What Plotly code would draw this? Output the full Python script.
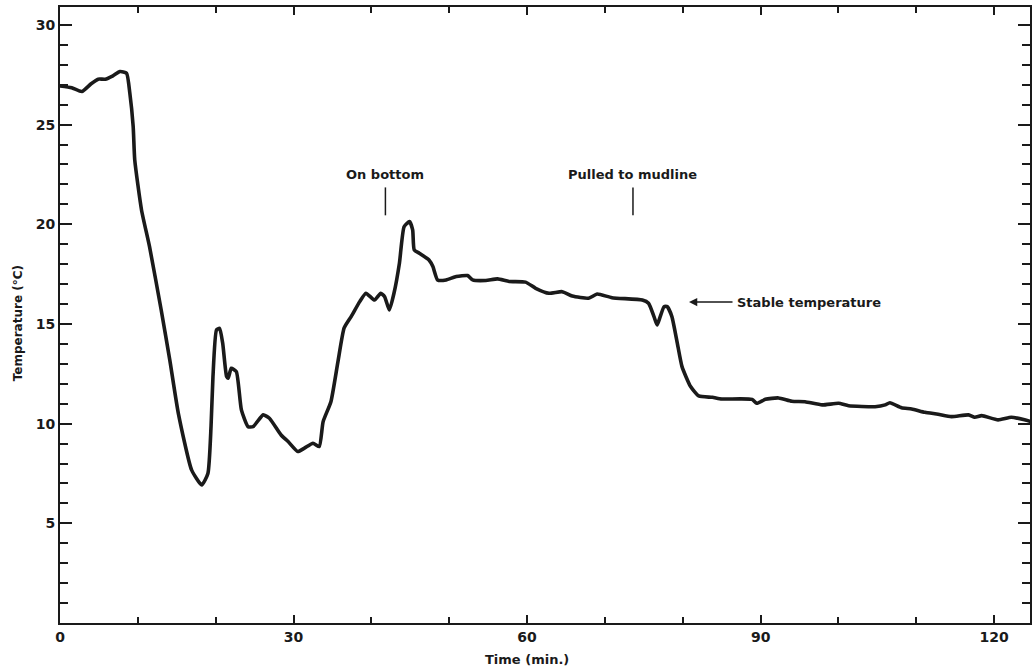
import plotly.graph_objects as go

time_min = [0, 1.5, 2.8, 4.0, 4.9, 5.8, 6.8, 7.7, 8.55, 8.97, 9.4, 9.6, 10.47, 11.5, 13.0, 14.1,
            15.2, 16.9, 18.2, 19.0, 19.4, 19.65, 20.1, 20.5, 20.9, 21.4, 21.6, 22.0, 22.65, 23.3,
            24.15, 24.8, 26.1, 26.9, 28.4, 29.3, 30.55, 31.4, 32.5, 33.3, 33.8, 34.8, 35.7, 36.5,
            37.4, 38.5, 39.3, 40.4, 41.2, 41.7, 42.3, 42.9, 43.6, 44.2, 44.9, 45.3, 45.5, 46.15,
            47.4, 47.9, 48.5, 49.6, 50.9, 52.35, 53.0, 54.7, 56.2, 57.7, 59.8, 61.1, 62.8, 64.5,
            65.8, 67.9, 69.0, 70.9, 74.8, 75.6, 76.3, 76.7, 77.1, 77.6, 78.0, 78.6, 79.3, 79.9,
            81.0, 82.05, 83.8, 85.0, 88.9, 89.5, 90.6, 92.3, 94.0, 95.7, 97.9, 100.0, 101.3,
            104.7, 106.0, 106.6, 108.1, 109.4, 111.1, 112.8, 114.5, 116.7, 117.5, 118.4, 120.5,
            122.2, 123.9, 124.7]
temperature = [26.94, 26.85, 26.66, 27.05, 27.28, 27.28, 27.45, 27.66, 27.58, 26.58, 24.9, 23.23,
               20.72, 18.88, 15.7, 13.2, 10.52, 7.68, 6.92, 7.5, 9.85, 12.36, 14.7, 14.78, 14.03,
               12.36, 12.28, 12.78, 12.61, 10.69, 9.85, 9.85, 10.44, 10.27, 9.43, 9.1, 8.6, 8.77,
               9.02, 8.85, 10.1, 11.1, 13.1, 14.8, 15.37, 16.12, 16.54, 16.2, 16.54, 16.37, 15.7,
               16.54, 18.05, 19.88, 20.14, 19.72, 18.72, 18.55, 18.21, 17.88, 17.21, 17.21, 17.38,
               17.43, 17.21, 17.18, 17.26, 17.13, 17.1, 16.79, 16.54, 16.62, 16.4, 16.29, 16.5,
               16.32, 16.2, 16.04, 15.37, 14.95, 15.37, 15.87, 15.87, 15.37, 14.03, 12.86, 11.86,
               11.39, 11.32, 11.24, 11.22, 11.02, 11.22, 11.29, 11.12, 11.1, 10.94, 11.02, 10.9,
               10.85, 10.94, 11.05, 10.8, 10.74, 10.57, 10.47, 10.35, 10.44, 10.32, 10.4, 10.19,
               10.32, 10.19, 10.1]

x_ticks = [0, 30, 60, 90, 120]
y_ticks = [5, 10, 15, 20, 25, 30]

event_labels = ["On bottom", "Pulled to mudline"]
event_times = [41.8, 73.6]
event_tick_low = 20.45
event_tick_high = 21.85
event_text_y = 22.5

stable_label = "Stable temperature"
stable_time = 80.8
stable_temp = 16.1

FONT = "DejaVu Sans, Verdana, sans-serif"
INK = "#1a1a1a"

fig = go.Figure()
fig.add_trace(go.Scatter(
    x=time_min, y=temperature, mode="lines",
    line=dict(color=INK, width=3.6, shape="spline", smoothing=0.5),
    showlegend=False, hoverinfo="x+y",
))

for lbl, t in zip(event_labels, event_times):
    fig.add_trace(go.Scatter(
        x=[t, t], y=[event_tick_low, event_tick_high], mode="lines",
        line=dict(color=INK, width=1.5), showlegend=False, hoverinfo="skip",
    ))
    fig.add_annotation(x=t, y=event_text_y, text="<b>" + lbl + "</b>", showarrow=False,
                       xanchor="center", yanchor="middle",
                       font=dict(family=FONT, size=13, color=INK))

fig.add_annotation(x=stable_time, y=stable_temp, ax=45, ay=0, axref="pixel", ayref="pixel",
                   text="", showarrow=True, arrowhead=2, arrowsize=1.1, arrowwidth=1.5,
                   arrowcolor=INK)
fig.add_annotation(x=stable_time, y=stable_temp, text="<b>" + stable_label + "</b>",
                   showarrow=False, xanchor="left", yanchor="middle", xshift=46,
                   font=dict(family=FONT, size=13, color=INK))

fig.add_annotation(xref="paper", yref="paper", x=-0.043, y=0.487, text="<b>Temperature (°C)</b>",
                   textangle=-90, showarrow=False, xanchor="center", yanchor="middle",
                   font=dict(family=FONT, size=12, color=INK))
fig.add_annotation(x=60, xref="x", yref="paper", y=-0.06, text="<b>Time (min.)</b>",
                   showarrow=False, xanchor="center", yanchor="middle",
                   font=dict(family=FONT, size=13, color=INK))

fig.update_xaxes(
    range=[0, 124.6], tickvals=x_ticks, ticktext=[f"<b>{v}</b>" for v in x_ticks],
    ticks="inside", ticklen=8, tickwidth=2, tickcolor=INK,
    minor=dict(dtick=10, tick0=0, ticks="inside", ticklen=6, tickwidth=2, tickcolor=INK),
    showline=True, linewidth=2, linecolor=INK, mirror="ticks",
    showgrid=False, zeroline=False,
    tickfont=dict(family=FONT, size=14, color=INK),
)
fig.update_yaxes(
    range=[0, 30.9], tickvals=y_ticks, ticktext=[f"<b>{v}</b>" for v in y_ticks],
    ticks="inside", ticklen=12, tickwidth=2, tickcolor=INK,
    minor=dict(dtick=1, tick0=0, ticks="inside", ticklen=8, tickwidth=2, tickcolor=INK),
    showline=True, linewidth=2, linecolor=INK, mirror="ticks",
    showgrid=False, zeroline=False,
    tickfont=dict(family=FONT, size=14, color=INK),
)

fig.update_layout(
    width=1033, height=671,
    margin=dict(l=60, r=1, t=7, b=48),
    paper_bgcolor="white", plot_bgcolor="white",
    showlegend=False,
)

fig.write_html(
    "out.html",
    config={"displayModeBar": False},
    post_script="document.body.style.margin='0';document.body.style.padding='0';"
                "document.body.style.overflow='hidden';",
)
